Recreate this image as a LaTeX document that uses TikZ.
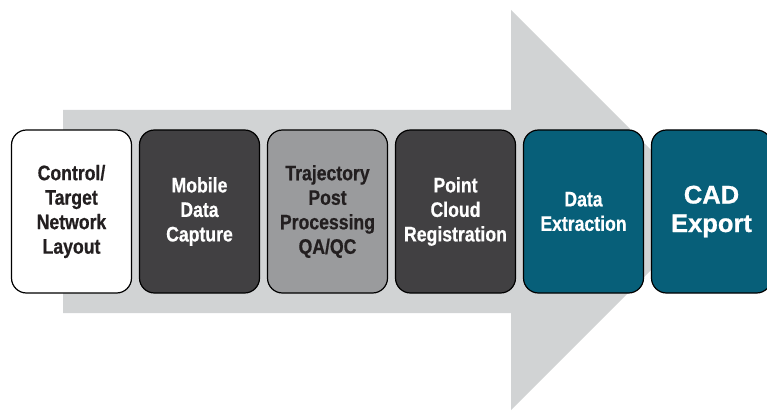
\documentclass[tikz,border=0pt]{standalone}
\usepackage{fontspec}
\setmainfont{Liberation Sans}
\newfontfamily\condfont[FakeStretch=0.84,FakeBold=0.6]{Liberation Sans Bold}
\newfontfamily\cadfont[FakeBold=0.8]{Liberation Sans Bold}
\usepackage{tikz}
\usetikzlibrary{positioning}

\definecolor{arrowgray}{HTML}{D1D3D4}
\definecolor{darkbox}{HTML}{414042}
\definecolor{midbox}{HTML}{9A9B9D}
\definecolor{tealbox}{HTML}{075F79}
\definecolor{inkblack}{HTML}{231F20}

\tikzset{
	stagebox/.style={draw=black,line width=1.2pt,rounded corners=15pt,
		minimum width=120pt,minimum height=163pt,inner sep=0pt,align=center,
		font=\condfont\fontsize{21}{24.5}\selectfont},
	lightstage/.style={stagebox,fill=white,text=inkblack},
	darkstage/.style={stagebox,fill=darkbox,text=white},
	greystage/.style={stagebox,fill=midbox,text=inkblack},
	tealstage/.style={stagebox,fill=tealbox,text=white}
}

\begin{document}
\begin{tikzpicture}[x=1pt,y=1pt,node distance=6.8pt]
		\useasboundingbox (0,0) rectangle (767,410);
		% the big grey process arrow behind the stages
		\def\shaftL{63}
		\def\headX{511}
		\fill[arrowgray] (\shaftL,300) -- (\headX,300) -- (\headX,400) -- (711,200)
		-- (\headX,0) -- (\headX,97) -- (\shaftL,97) -- cycle;
		
		% the stages, left to right
		\node[lightstage] (layout) at (71.5,198.5) {Control/\\Target\\Network\\Layout};
		\node[darkstage,right=of layout] (capture) {Mobile\\Data\\Capture};
		\node[greystage,right=of capture] (postproc) {Trajectory\\Post\\Processing\\QA/QC};
		\node[darkstage,right=of postproc] (registration) {Point\\Cloud\\Registration};
		\node[tealstage,right=of registration] (extraction) {Data\\Extraction};
		\node[tealstage,right=of extraction,
			font=\cadfont\fontsize{25.5}{28.5}\selectfont] (cadexport) {CAD\\Export};
	\end{tikzpicture}
\end{document}
